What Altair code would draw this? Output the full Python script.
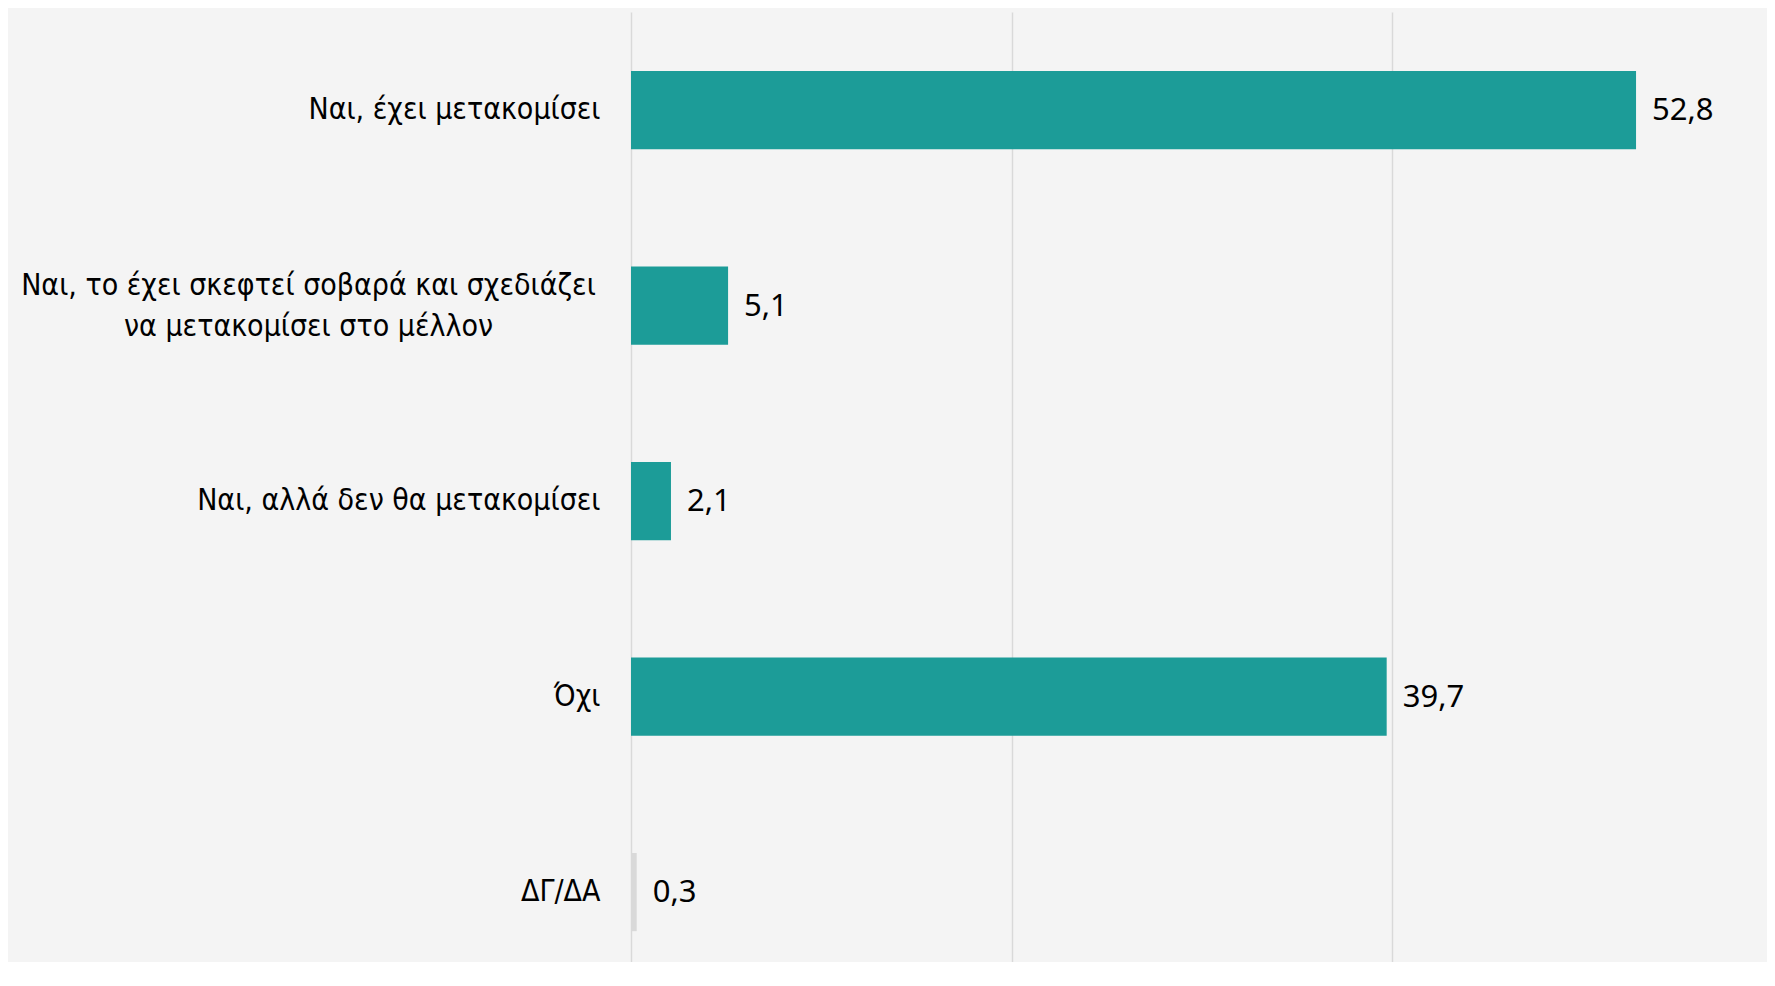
import altair as alt
import pandas as pd

categories = [
    "Ναι, έχει μετακομίσει",
    "Ναι, το έχει σκεφτεί σοβαρά και σχεδιάζει\nνα μετακομίσει στο μέλλον",
    "Ναι, αλλά δεν θα μετακομίσει",
    "Όχι",
    "ΔΓ/ΔΑ",
]
values = [52.8, 5.1, 2.1, 39.7, 0.3]
bar_colors = ["#1c9c98", "#1c9c98", "#1c9c98", "#1c9c98", "#d9d9d9"]
x_ticks = [0, 20, 40]

df = pd.DataFrame({"cat": categories, "val": values, "col": bar_colors})

label_font = "DejaVu Sans Condensed, DejaVu Sans, sans-serif"
value_font = "Noto Sans, Open Sans, sans-serif"

multi_test = "indexof(datum.value, 'σχεδιάζει') >= 0"

y_enc = alt.Y(
    "cat:N",
    sort=categories,
    title=None,
    scale=alt.Scale(paddingInner=0.6, paddingOuter=0.23, align=0.657),
    axis=alt.Axis(
        domain=False,
        ticks=False,
        grid=False,
        labelFont=label_font,
        labelFontSize=30,
        labelColor="#000000",
        labelLineHeight=41,
        labelLimit=0,
        labelExpr="split(datum.label, '\\n')",
        labelAlign=alt.ConditionalAxisLabelAlign(
            condition={"test": multi_test, "value": "center"},
            value="right",
        ),
        labelPadding=alt.ConditionalAxisNumber(
            condition={"test": multi_test, "value": 323},
            value=31,
        ),
        labelOffset=alt.ConditionalAxisNumber(
            condition={"test": multi_test, "value": -20},
            value=0,
        ),
    ),
)

x_enc = alt.X(
    "val:Q",
    title=None,
    scale=alt.Scale(domain=[0, 59.68], nice=False, zero=True),
    axis=alt.Axis(
        values=x_ticks,
        labels=False,
        ticks=False,
        domain=False,
        grid=True,
        gridColor="#d9d9d9",
        gridWidth=1.5,
    ),
)

bars = alt.Chart(df).mark_bar().encode(
    x=x_enc,
    y=y_enc,
    color=alt.Color("col:N", scale=None),
)

texts = alt.Chart(df).transform_calculate(
    lab="replace(format(datum.val, '.1f'), '.', ',')"
).mark_text(
    align="left", baseline="middle", dx=16, dy=1,
    font=value_font, fontSize=31, color="#000000",
).encode(
    x="val:Q",
    y=alt.Y("cat:N", sort=categories),
    text="lab:N",
)

chart = (bars + texts).properties(
    width=1136,
    height=950,
    background="#f4f4f4",
    padding={"left": 623, "top": 4, "right": 0, "bottom": 0},
    autosize=alt.AutoSizeParams(type="none"),
).configure_view(stroke=None)

chart.save("out.html", embed_options={"renderer": "svg", "actions": False})
